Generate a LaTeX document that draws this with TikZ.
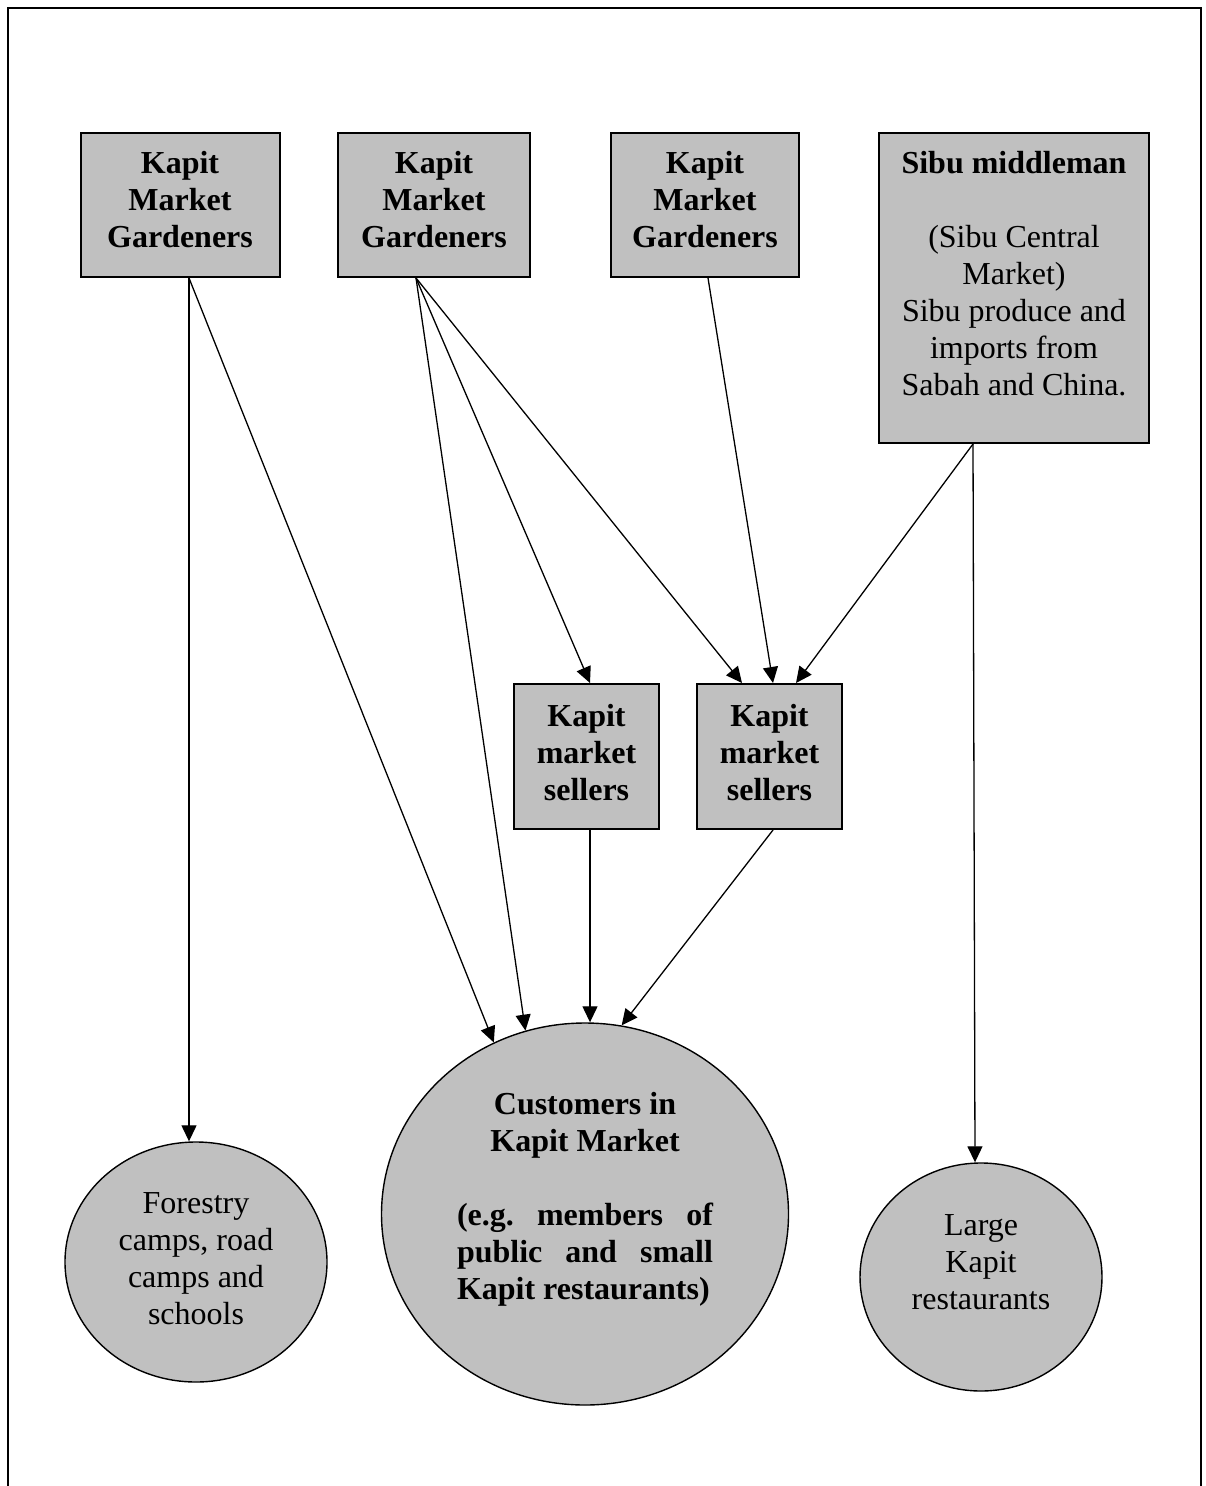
\documentclass[tikz,border=0pt]{standalone}
\usepackage{fontspec}
\setmainfont{Liberation Serif}
\usetikzlibrary{arrows.meta,shapes.geometric}
\definecolor{boxgray}{RGB}{192,192,192}

\begin{document}
\begin{tikzpicture}[x=0.5pt,y=-0.5pt,
  gbox/.style={draw,line width=1pt,fill=boxgray,inner sep=0pt},
  oval/.style={draw,ellipse,line width=0.7pt,fill=boxgray,inner sep=0pt},
  lbl/.style={align=center,inner sep=0pt,font=\fontsize{16}{18.5}\selectfont\frenchspacing},
  blbl/.style={align=center,inner sep=0pt,font=\fontsize{16}{18.5}\selectfont\frenchspacing\bfseries},
  arr/.style={line width=0.65pt,-{Triangle[length=8pt,width=7.5pt]}}]
\useasboundingbox (0,0) rectangle (1205,1486);
\draw[line width=1pt] (8,1486)--(8,8)--(1201,8)--(1201,1486);
\node[gbox,minimum width=99.5pt,minimum height=72pt] (kmg1) at (180,205) {};
\node[gbox,minimum width=96pt,minimum height=72pt] (kmg2) at (434,205) {};
\node[gbox,minimum width=94pt,minimum height=72pt] (kmg3) at (705,205) {};
\node[gbox,minimum width=135pt,minimum height=155pt] (sibu) at (1014,288) {};
\node[gbox,minimum width=72.5pt,minimum height=72.5pt] (sell1) at (586.5,756.5) {};
\node[gbox,minimum width=72.5pt,minimum height=72.5pt] (sell2) at (769.5,756.5) {};
\node[oval,minimum width=131pt,minimum height=120pt] (forest) at (196,1262) {};
\node[oval,minimum width=203.5pt,minimum height=191pt] (cust) at (585,1214) {};
\node[oval,minimum width=121pt,minimum height=114pt] (large) at (981,1277) {};
\node[blbl] (kmg1t) at (180,200) {Kapit\\Market\\Gardeners};
\node[blbl] (kmg2t) at (434,200) {Kapit\\Market\\Gardeners};
\node[blbl] (kmg3t) at (705,200) {Kapit\\Market\\Gardeners};
\node[lbl] (sibut) at (1014,273.5) {\textbf{Sibu middleman}\\[18.5pt](Sibu Central\\Market)\\Sibu produce and\\imports from\\Sabah and China.};
\node[blbl] (sell1t) at (586.5,753) {Kapit\\market\\sellers};
\node[blbl] (sell2t) at (769.5,753) {Kapit\\market\\sellers};
\node[lbl] (forestt) at (196,1259) {Forestry\\camps, road\\camps and\\schools};
\node[blbl] (custt) at (585,1199) {Customers in\\Kapit Market\\[18.5pt]\makebox[128pt][s]{(e.g. members of}\\\makebox[128pt][s]{public and small}\\\makebox[128pt][l]{Kapit restaurants)}};
\node[lbl] (larget) at (981,1262) {Large\\Kapit\\restaurants};
\draw[arr] ([xshift=4.5pt]kmg1.south)--([xshift=-3.5pt]forest.north);
\draw[arr] ([xshift=4.5pt]kmg1.south)--(cust.118.6);
\draw[arr] ([xshift=-9pt]kmg2.south)--(cust.108);
\draw[arr] ([xshift=-9pt]kmg2.south)--([xshift=1.75pt]sell1.north);
\draw[arr] ([xshift=-9pt]kmg2.south)--([xshift=-13.75pt]sell2.north);
\draw[arr] ([xshift=1.5pt]kmg3.south)--([xshift=1.75pt]sell2.north);
\draw[arr] ([xshift=-20.5pt]sibu.south)--([xshift=13.25pt]sell2.north);
\draw[arr] ([xshift=-20.5pt]sibu.south)--([xshift=-3pt]large.north);
\draw[arr] ([xshift=1.75pt]sell1.south)--([xshift=2.5pt]cust.north);
\draw[arr] ([xshift=1.75pt]sell2.south)--(cust.79);
\end{tikzpicture}
\end{document}
